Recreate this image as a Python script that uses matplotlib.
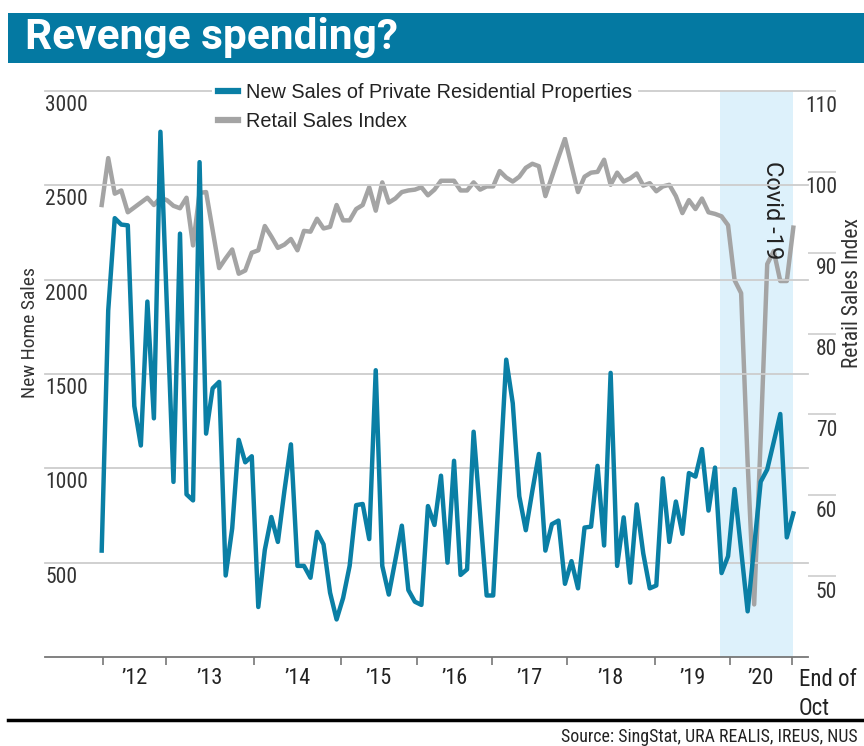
import numpy as np
import matplotlib
matplotlib.use("Agg")
import matplotlib.pyplot as plt
from matplotlib.lines import Line2D
from matplotlib.patches import Rectangle

# monthly series, Dec 2011 .. Oct 2020
new_sales = [564, 1837, 2326, 2292, 2288, 1330, 1121, 1884, 1265, 2784,
             1850, 928, 2244, 862, 830, 2623, 1184, 1424, 1458, 432,
             682, 1151, 1032, 1064, 265, 568, 742, 610, 880, 1127,
             483, 483, 420, 663, 597, 341, 199, 313, 483, 805,
             811, 625, 1520, 483, 331, 513, 696, 355, 293, 276,
             800, 700, 961, 500, 1040, 435, 465, 1194, 760, 326,
             326, 950, 1576, 1345, 852, 672, 880, 1076, 564, 704,
             723, 388, 508, 364, 686, 691, 1013, 591, 1506, 483,
             740, 394, 809, 549, 364, 379, 947, 610, 824, 653,
             975, 956, 1102, 776, 1004, 445, 534, 890, 567, 242,
             585, 929, 994, 1140, 1288, 634, 761]
retail_idx = [95.9, 101.7, 97.3, 97.7, 95.0, 95.6, 96.2, 96.8, 95.9, 96.8,
              96.5, 95.8, 95.5, 96.8, 90.9, 97.4, 97.5, 92.8, 88.1, 89.3,
              90.4, 87.4, 87.8, 90.0, 90.3, 93.3, 92.0, 90.6, 91.0, 91.7,
              90.3, 92.7, 92.6, 94.2, 93.0, 93.2, 95.9, 94.0, 94.0, 95.4,
              95.9, 98.1, 95.2, 98.7, 96.2, 96.7, 97.5, 97.7, 97.8, 98.1,
              97.1, 97.8, 98.9, 98.9, 98.9, 97.7, 97.7, 98.7, 97.8, 98.2,
              98.2, 100.1, 99.3, 98.8, 99.4, 100.5, 101.0, 100.7, 97.0, 99.4,
              101.8, 104.1, 100.8, 97.5, 99.4, 99.9, 100.0, 101.5, 98.4, 99.9,
              98.8, 99.2, 99.8, 98.3, 98.6, 97.6, 98.2, 98.4, 97.0, 94.9,
              96.5, 95.4, 96.7, 95.0, 94.8, 94.5, 93.4, 86.6, 85.0, 64.0,
              46.5, 67.0, 88.6, 90.2, 86.5, 86.5, 93.1]
year_ticks = [0.2, 9.85, 23.3, 36.7, 48.3, 59.8, 71.3, 84.8, 96.3, 105.8]
year_labels = ["\u201912", "\u201913", "\u201914", "\u201915", "\u201916",
               "\u201917", "\u201918", "\u201919", "\u201920"]
left_ticks = [500, 1000, 1500, 2000, 2500, 3000]
right_ticks = [50, 60, 70, 80, 90, 100, 110]
covid_start = 94.8

BLUE = "#0a7fa5"
GRAY = "#a4a4a4"
SHADE = "#ddf1fb"
GRID = "#cdcdcd"
NARROW = ["Roboto Condensed", "Liberation Sans Narrow", "Roboto", "DejaVu Sans"]
plt.rcParams["font.family"] = ["Liberation Sans", "DejaVu Sans"]

W, H = 864, 746
fig = plt.figure(figsize=(W / 100, H / 100), dpi=100)
ax = fig.add_axes([45 / W, 1 - 657 / H, (808 - 45) / W, (657 - 91) / H])
ax2 = ax.twinx()
ax.set_zorder(ax2.get_zorder() + 1)
ax.patch.set_visible(False)

x = np.arange(len(new_sales))
ax2.axvspan(covid_start, x[-1], color=SHADE, lw=0, zorder=0)
ax2.plot(x, retail_idx, color=GRAY, lw=3.2)
ax.plot(x, new_sales, color=BLUE, lw=3.2)

ax.set_xlim(-8.69, 108.25)
ax.set_ylim(0, 3000)
ax2.set_ylim(40, 110)

# left axis: gridlines, labels sit just under each line
ax.set_yticks(left_ticks)
ax.tick_params(axis="y", length=0, labelleft=False)
ax.grid(axis="y", color=GRID, lw=1.3, clip_on=False)
ax.set_axisbelow(True)
for v in left_ticks:
    ax.annotate(str(v), (0, v), xycoords=("axes fraction", "data"),
                xytext=(0, -10.5), textcoords="offset points",
                ha="left", va="center", fontsize=15.5, family=NARROW, color="#333333")

# right axis: short outside ticks, labels under them
ax2.set_yticks(right_ticks)
ax2.tick_params(axis="y", direction="out", length=20, width=1.2, color=GRID,
                labelright=False)
for v in right_ticks:
    ax2.annotate(str(v), (1, v), xycoords=("axes fraction", "data"),
                 xytext=(21, -11.5), textcoords="offset points",
                 ha="right", va="center", fontsize=15.5, family=NARROW, color="#333333")

# x axis
ax.set_xticks(year_ticks)
ax.set_xticklabels([])
mids = [(a + b) / 2 for a, b in zip(year_ticks[:-1], year_ticks[1:])]
ax.set_xticks(mids, minor=True)
ax.set_xticklabels(year_labels, minor=True, fontsize=16, family=NARROW, color="#222222")
ax.tick_params(axis="x", which="major", length=6, width=1.2, color="#777777")
ax.tick_params(axis="x", which="minor", length=0, pad=8)
ax.annotate("End of\nOct", (x[-1], 0), xycoords="data", xytext=(4, -8),
            textcoords="offset points", ha="left", va="top", fontsize=16.5,
            family=NARROW, color="#222222", linespacing=1.3, annotation_clip=False)

for s in ["top", "left", "right"]:
    ax.spines[s].set_visible(False)
    ax2.spines[s].set_visible(False)
ax2.spines["bottom"].set_visible(False)
ax.spines["bottom"].set_color("#777777")
ax.spines["bottom"].set_linewidth(1.3)
ax2.tick_params(axis="x", length=0)

ax2.text(102.8, 0.79, "Covid -19", transform=ax2.get_xaxis_transform(),
         rotation=270, ha="center", va="center", fontsize=17,
         family=["Roboto", "DejaVu Sans"], color="#222222")

fig.text(30 / W, 1 - 332 / H, "New Home Sales", rotation=90, ha="center",
         va="center", fontsize=14, family=NARROW, color="#333333")
fig.text(853 / W, 1 - 293 / H, "Retail Sales Index", rotation=90, ha="center",
         va="center", fontsize=15.5, family=NARROW, color="#333333")

handles = [Line2D([], [], color=BLUE, lw=4.5), Line2D([], [], color=GRAY, lw=4.5)]
leg = ax.legend(handles, ["New Sales of Private Residential Properties", "Retail Sales Index"],
                loc="upper left", bbox_to_anchor=(202 / W, 1 - 67 / H),
                bbox_transform=fig.transFigure, frameon=True, facecolor="white",
                edgecolor="none", framealpha=1, fancybox=False, handlelength=1.0,
                handletextpad=0.4, labelspacing=0.5, borderpad=0.3, fontsize=14.3)
for t in leg.get_texts():
    t.set_color("#222222")

# title bar, bottom rule, source
fig.add_artist(Rectangle((8 / W, 1 - 63 / H), 1, 50 / H, transform=fig.transFigure,
                         color="#0479a2", lw=0))
fig.text(25 / W, 1 - 38 / H, "Revenge spending?", color="white", fontsize=30.5,
         fontweight="bold", family=["Roboto", "DejaVu Sans"], va="center", ha="left")
fig.add_artist(Line2D([8 / W, 1], [1 - 720 / H, 1 - 720 / H], color="black", lw=2.5))
fig.text(858 / W, 1 - 737 / H, "Source: SingStat, URA REALIS, IREUS, NUS", ha="right",
         va="center", fontsize=12.9, family=NARROW, color="#222222")

fig.savefig("out.png", dpi=100)
